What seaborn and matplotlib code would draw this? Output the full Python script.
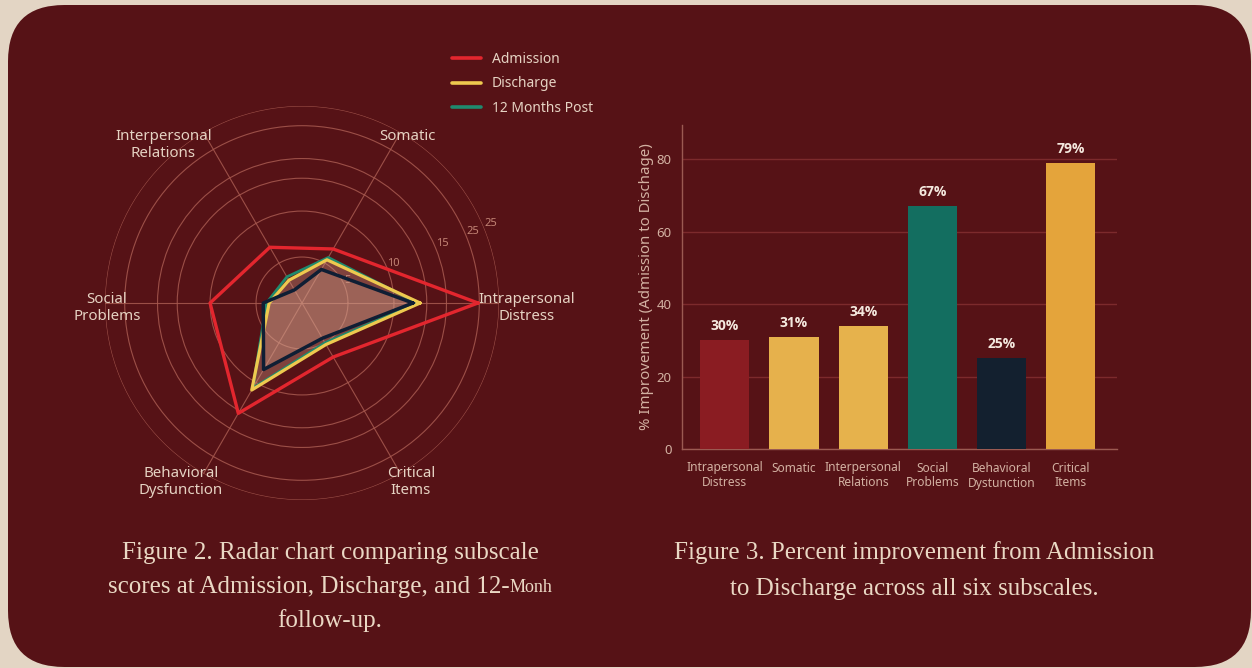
import numpy as np
import pandas as pd
import matplotlib
matplotlib.use("Agg")
import matplotlib.pyplot as plt
from matplotlib.patches import FancyBboxPatch
from matplotlib.lines import Line2D
import seaborn as sns

# ---- data -------------------------------------------------------------
subscales = ["Intrapersonal Distress", "Somatic", "Interpersonal Relations",
             "Social Problems", "Behavioral Dysfunction", "Critical Items"]
admission = [26.8, 9.5, 9.8, 14.0, 19.4, 9.5]
discharge = [18.0, 7.6, 4.0, 5.0, 15.3, 7.3]
months_12 = [17.6, 8.0, 4.6, 5.4, 15.0, 7.0]
followup_core = [16.9, 5.9, 2.3, 5.9, 11.7, 6.2]

ring_values = [7, 14, 19, 22, 27, 30]
ring_labels = ["5", "10", "", "15", "25", "25"]

bar_labels = ["Intrapersonal\nDistress", "Somatic", "Interpersonal\nRelations",
              "Social\nProblems", "Behavioral\nDystunction", "Critical\nItems"]
improvement = [30, 31, 34, 67, 25, 79]
bar_colors = ["#8a1c22", "#e6b14c", "#e6b24c", "#136e60", "#13202f", "#e4a43b"]
y_ticks = [0, 20, 40, 60, 80]

# ---- style ------------------------------------------------------------
sns.set_style("white")
plt.rcParams["font.family"] = ["Noto Sans", "DejaVu Sans"]

W, H = 1252, 668
BG_OUT = "#e3d5c4"
CARD = "#561216"
TXT = "#e6d3c3"
TICK = "#d3b1a2"
GRID = "#a85a50"

fig = plt.figure(figsize=(W / 100, H / 100), dpi=100, facecolor=BG_OUT)


def fx(x):
    return x / W


def fy(y):
    return 1 - y / H


card = FancyBboxPatch((fx(8), fy(667)), fx(1243), 662 / H,
                      boxstyle="round,pad=0,rounding_size=0.045",
                      transform=fig.transFigure, facecolor=CARD,
                      edgecolor="none", mutation_aspect=W / H, zorder=-5)
fig.patches.append(card)

# ---- radar ------------------------------------------------------------
cx, cy, R = 302, 303, 197
rmax = ring_values[-1]
ax = fig.add_axes([fx(cx - R), fy(cy + R), 2 * R / W, 2 * R / H],
                  projection="polar")
ax.set_facecolor("none")
ax.set_ylim(0, rmax)
theta = np.deg2rad(np.arange(0, 360, 60))
ax.set_xticks(theta)
ax.set_xticklabels([])
ax.set_yticks(ring_values)
ax.set_yticklabels(ring_labels, color="#c38475", fontsize=8)
ax.set_rlabel_position(22)
ax.grid(True, color=GRID, linewidth=0.8, alpha=0.85)
ax.spines["polar"].set_visible(False)


def closed(vals):
    t = np.append(theta, theta[0] + 2 * np.pi)
    v = np.append(vals, vals[0])
    return t, v


frames = []
for name, vals in [("Admission", admission), ("Discharge", discharge),
                   ("12 Months Post", months_12), ("core", followup_core)]:
    t, v = closed(vals)
    frames.append(pd.DataFrame({"theta": t, "r": v, "series": name}))
radar = pd.concat(frames, ignore_index=True)

# soft fill for discharge and follow-up areas
for vals in (discharge, followup_core):
    t, v = closed(vals)
    ax.fill(t, v, color="#d7a58f", alpha=0.33, zorder=2, linewidth=0)

styles = {"Admission": ("#e3262e", 2.4, 5),
          "12 Months Post": ("#1f8a6e", 2.0, 3),
          "Discharge": ("#eec94f", 2.3, 4),
          "core": ("#0f1e34", 2.5, 6)}
for name in ["12 Months Post", "Discharge", "core", "Admission"]:
    col, lw, z = styles[name]
    sub = radar[radar["series"] == name]
    sns.lineplot(data=sub, x="theta", y="r", sort=False, estimator=None,
                 color=col, linewidth=lw, ax=ax, legend=False, zorder=z)
ax.set_xlabel("")
ax.set_ylabel("")

label_pos = {
    "Intrapersonal Distress": (358.4, 26.8, "left"),
    "Somatic": (57.6, 30.1, "center"),
    "Interpersonal Relations": (131.3, 32.0, "center"),
    "Social Problems": (181.5, 29.7, "center"),
    "Behavioral Dysfunction": (235.9, 32.9, "center"),
    "Critical Items": (301.3, 31.9, "center"),
}
for name in subscales:
    ang, rr, ha = label_pos[name]
    txt = name if name == "Somatic" else name.replace(" ", "\n", 1)
    ax.text(np.deg2rad(ang), rr, txt, ha=ha, va="center", ma="center",
            color=TXT, fontsize=10.8, linespacing=1.2, clip_on=False)

handles = [Line2D([], [], color=styles[n][0], linewidth=2.6)
           for n in ["Admission", "Discharge", "12 Months Post"]]
fig.legend(handles, ["Admission", "Discharge", "12 Months Post"],
           loc="upper left", bbox_to_anchor=(fx(452), fy(52)),
           frameon=False, fontsize=10, labelcolor=TXT, handlelength=2.1,
           handletextpad=0.75, labelspacing=0.68, borderpad=0,
           borderaxespad=0)

# ---- bars -------------------------------------------------------------
top = 89.4
ax2 = fig.add_axes([fx(682), fy(449), 435 / W, 324 / H])
ax2.set_facecolor("none")
sns.barplot(x=bar_labels, y=improvement, hue=bar_labels, palette=bar_colors,
            legend=False, width=0.71, saturation=1, ax=ax2, zorder=3,
            edgecolor="none", linewidth=0)
ax2.set_ylim(0, top)
ax2.set_xlim(-0.62, 5.67)
ax2.set_yticks(y_ticks)
ax2.grid(axis="y", color="#7c2a2c", linewidth=1.0, zorder=0)
ax2.set_axisbelow(True)
for s in ["top", "right"]:
    ax2.spines[s].set_visible(False)
for s in ["left", "bottom"]:
    ax2.spines[s].set_color("#9b5a52")
    ax2.spines[s].set_linewidth(1.0)
ax2.tick_params(axis="both", colors="#9b5a52", length=4, width=1,
                labelcolor=TICK, labelsize=9.5)
ax2.tick_params(axis="x", labelsize=8.6, pad=5)
for lbl in ax2.get_xticklabels():
    lbl.set_linespacing(1.2)
ax2.set_ylabel("% Improvement (Admission to Dischage)", color=TICK,
               fontsize=10.8, labelpad=2)
for cont, val in zip(ax2.containers, improvement):
    ax2.bar_label(cont, labels=[f"{val}%"], padding=5, color="#f4e8de",
                  fontsize=10, fontweight="bold", family=["Open Sans", "DejaVu Sans"])

# ---- captions ---------------------------------------------------------
serif = ["Liberation Serif", "DejaVu Serif"]
cap_kw = dict(color="#ead8c4", family=serif, va="center")
fig.text(fx(330), fy(553), "Figure 2. Radar chart comparing subscale",
         ha="center", fontsize=18, **cap_kw)
fig.text(fx(330), fy(621), "follow-up.", ha="center", fontsize=18, **cap_kw)
t1 = fig.text(0, fy(587), "scores at Admission, Discharge, and 12-",
              ha="left", fontsize=18, **cap_kw)
t2 = fig.text(0, fy(588), "Monh", ha="left", fontsize=13, **cap_kw)
renderer = fig.canvas.get_renderer()
w1 = t1.get_window_extent(renderer).width
w2 = t2.get_window_extent(renderer).width
start = 330 - (w1 + w2) / 2
t1.set_x(fx(start))
t2.set_x(fx(start + w1))

fig.text(fx(914), fy(553), "Figure 3. Percent improvement from Admission",
         ha="center", fontsize=18, **cap_kw)
fig.text(fx(914), fy(589), "to Discharge across all six subscales.",
         ha="center", fontsize=18, **cap_kw)

fig.savefig("out.png", dpi=100, facecolor=BG_OUT)
